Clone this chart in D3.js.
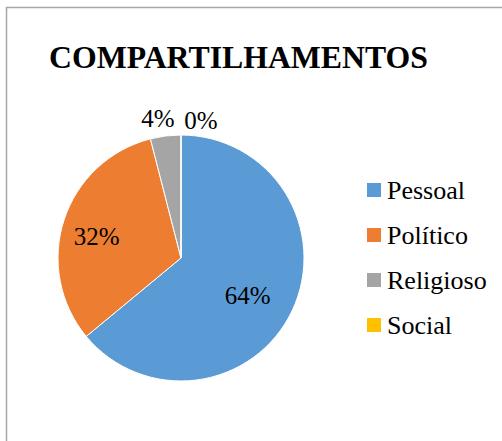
<!DOCTYPE html>
<html>
<head>
<meta charset="utf-8">
<script src="https://cdn.jsdelivr.net/npm/d3@7"></script>
<style>
  html, body { margin: 0; padding: 0; background: #fff; }
  svg { display: block; }
</style>
</head>
<body>
<svg id="chart" width="502" height="441"></svg>
<script>
// Share distribution by category
const categories = ["Pessoal", "Político", "Religioso", "Social"];
const values = [64, 32, 4, 0];
const labels = ["64%", "32%", "4%", "0%"];
const colors = ["#5B9BD5", "#ED7D31", "#A5A5A5", "#FFC000"];
const title = "COMPARTILHAMENTOS";

// text uses the page's default serif face
const svg = d3.select("#chart");
const W = 502, H = 441;

// chart frame
svg.append("rect")
  .attr("x", 6.5).attr("y", 7.5)
  .attr("width", W + 10).attr("height", H + 10)
  .attr("fill", "#fff")
  .attr("stroke", "#a6a6a6")
  .attr("stroke-width", 1.5);

// title, sized to span its box
const titleText = svg.append("text")
  .attr("x", 49).attr("y", 68)
  .attr("font-size", 30)
  .attr("font-weight", "bold")
  .text(title);
const tw = titleText.node().getComputedTextLength();
titleText.attr("font-size", 30 * 379 / tw);

const cx = 181, cy = 258, r = 123;
const data = categories.map((c, i) => ({ name: c, value: values[i], label: labels[i], color: colors[i] }));

const pie = d3.pie().value(d => d.value).sort(null);
const arc = d3.arc().innerRadius(0).outerRadius(r);
const arcs = pie(data);

const g = svg.append("g").attr("transform", `translate(${cx},${cy})`);
g.selectAll("path")
  .data(arcs)
  .join("path")
  .attr("d", arc)
  .attr("fill", d => d.data.color)
  .attr("stroke", "#fff")
  .attr("stroke-width", 1);

// value labels: inside for large slices, outside above the pie for small ones
g.selectAll("text.val")
  .data(arcs)
  .join("text")
  .attr("class", "val")
  .attr("font-size", 25)
  .attr("text-anchor", "middle")
  .attr("dominant-baseline", "central")
  .attr("transform", d => {
    if (d.data.value >= 10) {
      const k = d.data.value > 50 ? 0.6 : 0.72;
      const lr = d3.arc().innerRadius(r * k).outerRadius(r * k);
      const [x, y] = lr.centroid(d);
      return `translate(${x},${y + 6})`;
    }
    return d.data.value > 0 ? "translate(-23,-140)" : "translate(20,-138)";
  })
  .text(d => d.data.label);

// legend
const legend = svg.append("g").attr("transform", "translate(367,190)");
const item = legend.selectAll("g")
  .data(data)
  .join("g")
  .attr("transform", (d, i) => `translate(0,${i * 45})`);
item.append("rect")
  .attr("x", 0).attr("y", -7)
  .attr("width", 14).attr("height", 14)
  .attr("fill", d => d.color);
item.append("text")
  .attr("x", 20).attr("y", 0)
  .attr("dy", "0.35em")
  .attr("font-size", 26)
  .text(d => d.name);
</script>
</body>
</html>
